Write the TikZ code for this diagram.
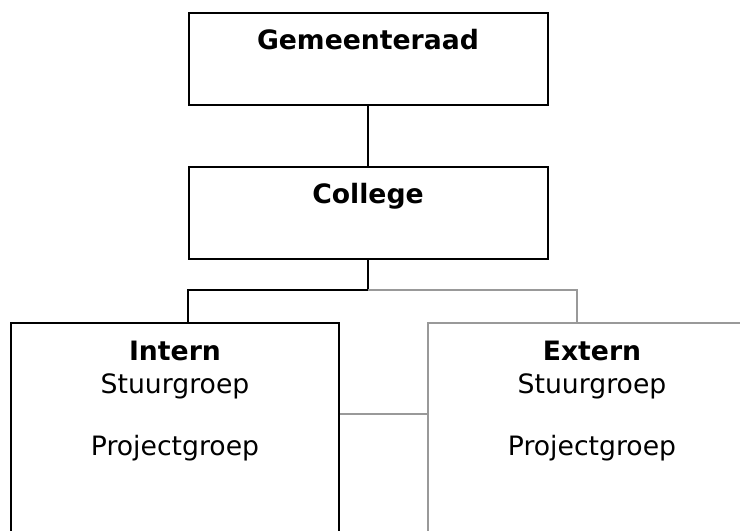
\documentclass[tikz,border=0pt]{standalone}
\usepackage{fontspec}
\setmainfont{DejaVu Sans}

\begin{document}
\begin{tikzpicture}[x=0.75pt,y=-0.75pt,line width=1.5pt,
    orgbox/.style ={rectangle, draw, inner sep=0pt, align=center,
                    font=\fontsize{20}{24.75}\selectfont},
    topbox/.style ={orgbox, anchor=north, minimum width=269.25pt,
                    text height=27.75pt, text depth=41.25pt},
    werkbox/.style={orgbox, anchor=north west, text width=246pt,
                    text height=27.75pt, text depth=180pt}]
   \clip (0,0) rectangle (740,531);

   \node[topbox] (raad)    at (368,12)  {\textbf{Gemeenteraad}};
   \node[topbox] (college) at (368,166) {\textbf{College}};
   \node[werkbox] (intern) at (10,322)
        {\textbf{Intern}\\Stuurgroep\\[22.5pt]Projectgroep};
   \node[werkbox,draw=black!40] (extern) at (427,322)
        {\textbf{Extern}\\Stuurgroep\\[22.5pt]Projectgroep};

   \coordinate (split)    at (368,290);
   \coordinate (linksaf)  at (188,290);
   \coordinate (rechtsaf) at (577,290);
   \coordinate (koppel)   at (0,414);

   \draw (raad) to (college);
   \draw (college) -- (split) -- (linksaf) -- (linksaf |- intern.north);
   \draw[black!40] (split) -- (rechtsaf) -- (rechtsaf |- extern.north);
   \draw[black!40] (intern.east |- koppel) -- (extern.west |- koppel);
 \end{tikzpicture}
\end{document}
